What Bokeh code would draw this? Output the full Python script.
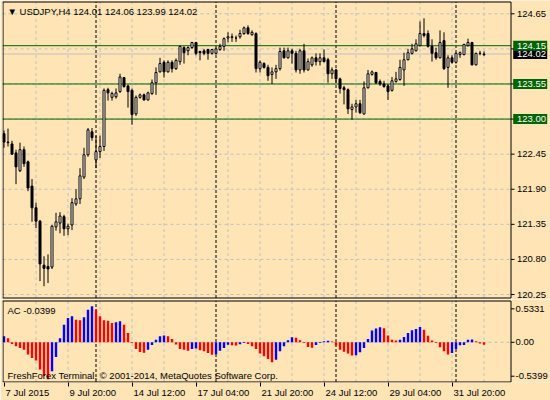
import numpy as np
from bokeh.plotting import figure
from bokeh.layouts import column
from bokeh.models import Range1d, FixedTicker, Label
from bokeh.core.properties import value
from bokeh.embed import file_html
from bokeh.resources import INLINE

# ---------------- data ----------------
opens = [122.77, 122.63, 122.61, 122.47, 122.19, 122.52, 122.33, 121.95, 121.61, 121.40,
         120.71, 120.69, 120.68, 121.31, 121.37, 121.47, 121.28, 121.34, 121.67, 121.75,
         122.09, 122.44, 122.80, 122.36, 122.49, 122.57, 123.46, 123.34, 123.35, 123.43,
         123.65, 123.52, 123.45, 123.08, 123.34, 123.38, 123.30, 123.40, 123.57, 123.74,
         123.89, 123.74, 123.89, 123.79, 123.90, 124.12, 124.07, 124.12, 124.20, 124.06,
         124.07, 124.09, 124.03, 124.03, 124.09, 124.14, 124.27, 124.28, 124.27, 124.29,
         124.34, 124.43, 124.32, 124.34, 123.79, 123.87, 123.81, 123.70, 123.74, 123.79,
         124.07, 123.96, 124.07, 124.03, 123.77, 124.07, 123.77, 123.85, 123.96, 123.90,
         123.96, 123.93, 123.71, 123.77, 123.63, 123.49, 123.46, 123.15, 123.19, 123.24,
         123.08, 123.49, 123.70, 123.73, 123.59, 123.55, 123.52, 123.45, 123.59, 123.62,
         123.77, 123.93, 124.03, 124.07, 124.15, 124.34, 124.34, 124.14, 124.04, 123.96,
         124.23, 123.81, 123.96, 123.89, 124.01, 124.01, 124.15, 124.20, 123.85, 124.03,
         124.01]
highs = [122.82, 122.85, 122.66, 122.52, 122.63, 122.57, 122.35, 122.06, 121.69, 121.42,
         120.85, 120.88, 121.34, 121.53, 121.54, 121.50, 121.36, 121.76, 121.90, 122.23,
         122.55, 122.86, 122.86, 122.74, 122.74, 123.48, 123.49, 123.43, 123.48, 123.71,
         123.66, 123.54, 123.48, 123.37, 123.40, 123.40, 123.43, 123.62, 123.81, 123.96,
         123.92, 123.92, 123.92, 123.95, 124.15, 124.14, 124.14, 124.21, 124.21, 124.07,
         124.10, 124.10, 124.10, 124.12, 124.18, 124.28, 124.36, 124.34, 124.31, 124.40,
         124.45, 124.47, 124.39, 124.36, 123.92, 123.89, 123.85, 123.81, 123.85, 124.12,
         124.12, 124.12, 124.10, 124.07, 124.10, 124.18, 123.95, 123.98, 124.03, 124.03,
         124.09, 123.96, 123.81, 123.79, 123.65, 123.52, 123.48, 123.24, 123.30, 123.30,
         123.59, 123.77, 123.76, 123.74, 123.62, 123.60, 123.55, 123.66, 123.74, 123.93,
         124.04, 124.10, 124.18, 124.25, 124.53, 124.58, 124.39, 124.25, 124.12, 124.39,
         124.36, 124.00, 124.00, 124.04, 124.06, 124.18, 124.26, 124.21, 124.04, 124.07,
         124.06]
lows = [122.55, 122.57, 122.44, 121.98, 122.17, 122.25, 121.87, 121.39, 121.29, 120.46,
        120.38, 120.43, 120.65, 121.25, 121.21, 121.17, 121.18, 121.26, 121.64, 121.67,
        122.06, 122.41, 122.66, 122.23, 122.39, 122.50, 123.29, 123.29, 123.32, 123.41,
        123.49, 123.18, 122.91, 123.05, 123.32, 123.29, 123.29, 123.38, 123.38, 123.73,
        123.65, 123.73, 123.73, 123.77, 123.85, 123.87, 124.00, 124.10, 124.00, 123.92,
        124.00, 123.93, 124.01, 124.01, 124.07, 124.07, 124.20, 124.21, 124.21, 124.26,
        124.32, 124.32, 124.31, 123.73, 123.73, 123.79, 123.60, 123.55, 123.63, 123.76,
        123.95, 123.95, 123.87, 123.73, 123.71, 123.73, 123.76, 123.82, 123.84, 123.84,
        123.89, 123.57, 123.63, 123.57, 123.40, 123.23, 123.08, 122.99, 123.10, 123.08,
        123.07, 123.48, 123.68, 123.55, 123.52, 123.49, 123.30, 123.43, 123.57, 123.60,
        123.52, 123.92, 124.01, 124.06, 124.14, 124.28, 124.12, 123.90, 123.93, 123.95,
        123.77, 123.49, 123.87, 123.87, 123.96, 124.00, 124.14, 123.84, 123.84, 124.00,
        123.99]
closes = [122.64, 122.64, 122.45, 122.25, 122.52, 122.30, 121.92, 121.61, 121.40, 120.73,
          120.66, 120.65, 121.32, 121.39, 121.48, 121.28, 121.32, 121.69, 121.75, 122.11,
          122.44, 122.83, 122.71, 122.49, 122.57, 123.45, 123.41, 123.40, 123.41, 123.66,
          123.51, 123.43, 123.07, 123.34, 123.38, 123.30, 123.41, 123.57, 123.73, 123.87,
          123.74, 123.89, 123.79, 123.92, 124.14, 124.04, 124.12, 124.20, 124.03, 124.04,
          124.03, 124.03, 124.09, 124.10, 124.14, 124.26, 124.29, 124.29, 124.27, 124.34,
          124.43, 124.34, 124.36, 123.79, 123.89, 123.81, 123.68, 123.74, 123.79, 124.06,
          123.96, 124.07, 124.03, 123.77, 124.07, 123.77, 123.90, 123.96, 123.90, 123.96,
          123.90, 123.71, 123.77, 123.63, 123.48, 123.46, 123.16, 123.19, 123.24, 123.10,
          123.49, 123.71, 123.74, 123.57, 123.55, 123.51, 123.43, 123.60, 123.63, 123.81,
          123.93, 124.04, 124.10, 124.18, 124.34, 124.31, 124.14, 124.03, 123.96, 124.20,
          123.79, 123.96, 123.89, 124.03, 124.04, 124.17, 124.20, 123.85, 124.03, 124.03,
          124.02]
ac_values = [0.096, 0.064, -0.027, -0.064, -0.090, -0.117, -0.196, -0.250, -0.290, -0.435,
             -0.536, -0.590, -0.460, -0.234, 0.064, 0.280, 0.387, 0.414, 0.360, 0.350,
             0.400, 0.520, 0.573, 0.520, 0.414, 0.350, 0.345, 0.308, 0.318, 0.334,
             0.280, 0.149, -0.010, -0.106, -0.155, -0.165, -0.117, -0.042, 0.042, 0.096,
             0.110, 0.096, 0.053, -0.037, -0.106, -0.117, -0.133, -0.106, -0.100, -0.127,
             -0.143, -0.170, -0.200, -0.190, -0.133, -0.090, -0.040, -0.045, -0.050, -0.030,
             -0.012, -0.027, -0.064, -0.106, -0.180, -0.223, -0.265, -0.318, -0.276, -0.143,
             -0.064, 0.032, 0.080, 0.072, 0.032, -0.010, -0.075, -0.085, -0.042, -0.010,
             0.018, 0.024, 0.011, -0.053, -0.117, -0.149, -0.180, -0.210, -0.205, -0.160,
             -0.090, 0.053, 0.186, 0.218, 0.240, 0.223, 0.110, 0.042, 0.027, 0.042,
             0.085, 0.149, 0.190, 0.212, 0.244, 0.200, 0.106, 0.027, -0.010, -0.080,
             -0.143, -0.196, -0.170, -0.106, -0.048, -0.042, 0.042, 0.045, 0.016, -0.021,
             -0.0399]
bars = list(range(len(closes)))
price_levels = [124.65, 124.10, 123.55, 123.00, 122.45, 121.90, 121.35, 120.80, 120.25]
price_labels = ["124.65", "", "", "", "122.45", "121.90", "121.35", "120.80", "120.25"]
grid_bars = list(range(8, 121, 8))
week_bars = [23, 53, 83, 113]
date_bars = [0, 16, 32, 48, 64, 80, 96, 112]
date_labels = ["7 Jul 2015", "9 Jul 20:00", "14 Jul 12:00", "17 Jul 04:00",
               "21 Jul 20:00", "24 Jul 12:00", "29 Jul 04:00", "31 Jul 20:00"]
level_lines = [124.15, 123.55, 123.00]
level_labels = ["124.15", "123.55", "123.00"]
bid_price = 124.02
bid_label = "124.02"
ac_ticks = [0.5331, 0.0, -0.5399]
ac_tick_labels = ["0.5331", "0.00", "-0.5399"]
title_text = "\u25bc USDJPY,H4  124.01 124.06 123.99 124.02"
ac_title = "AC -0.0399"
copyright_text = "FreshForex Terminal, \u00a9 2001-2014, MetaQuotes Software Corp."

# ---------------- geometry / style ----------------
BG = "#FFE4B5"
GRID = "#C0C0C0"
GREEN = "#006400"
FONT = "Liberation Sans"
FS = "9.5px"
W, H1, H2 = 550, 299, 101
PPU = 4.0                         # pixels per bar
X0 = (2 - 3.5) / PPU              # frame starts at x=2, bar 0 centred at x=3.5
X1 = (510.5 - 3.5) / PPU          # right border of the chart area
X2 = X0 + (W - 2) / PPU           # frame extends over the price-scale column
PPY = 63.8
Y1 = 124.65 + 13.3 / PPY
Y0 = Y1 - H1 / PPY
PPA = 62.8
AF = 83                            # AC frame height
A1 = (341.8 - 299) / PPA
A0 = A1 - AF / PPA

o = np.array(opens); c = np.array(closes)
up = c >= o
body_top = np.maximum(o, c)
body_bot = np.minimum(o, c)
body_fill = ["white" if u else "black" for u in up]


def text_label(fig, x, y, text):
    fig.add_layout(Label(x=x, y=y, x_units="screen", y_units="screen", text=text,
                         text_font=FONT, text_font_size=FS, text_color="black",
                         text_align="left", text_baseline="middle"))


def texts(fig, xs, ys, labels, color="black"):
    fig.text(x=xs, y=ys, text=labels, text_font=value(FONT), text_font_size=value(FS),
             text_color=color, text_align="left", text_baseline="middle")


def base_fig(height, y_range, bottom, x_loc):
    f = figure(width=W, height=height, output_backend="svg", toolbar_location=None,
               x_range=Range1d(X0, X2), y_range=y_range,
               x_axis_location=x_loc, y_axis_location=None,
               min_border_left=2, min_border_right=0,
               min_border_top=0, min_border_bottom=bottom,
               background_fill_color=BG, border_fill_color=BG,
               outline_line_color=None)
    f.xgrid.grid_line_color = None
    f.ygrid.grid_line_color = None
    return f


def chart_box(f, top, bottom, py):
    hx = 0.5 / PPU
    # vertical grid and weekly separators between the borders
    nb = len(grid_bars)
    f.segment(x0=grid_bars, y0=[bottom] * nb, x1=grid_bars, y1=[top] * nb,
              line_color=GRID, line_dash="3 3", line_width=1, level="underlay")
    nw = len(week_bars)
    f.segment(x0=week_bars, y0=[bottom] * nw, x1=week_bars, y1=[top] * nw,
              line_color="black", line_dash="3 2", line_width=1, level="underlay")
    return hx


# ---------------- price pane ----------------
p = base_fig(H1, Range1d(Y0, Y1), 0, None)
top_p = Y1 - 1.5 / PPY
bot_p = Y1 - 297.5 / PPY
chart_box(p, top_p, bot_p, PPY)

n_lv = len(price_levels)
p.segment(x0=[X0] * n_lv, y0=price_levels, x1=[X1] * n_lv, y1=price_levels,
          line_color=GRID, line_dash="3 3", line_width=1, level="underlay")
p.segment(x0=[X0], y0=[bid_price], x1=[X1], y1=[bid_price],
          line_color=GRID, line_width=1, level="underlay")
p.segment(x0=[X0] * 3, y0=level_lines, x1=[X1] * 3, y1=level_lines,
          line_color=GREEN, line_width=1, level="underlay")

# candles
p.segment(x0=bars, y0=lows, x1=bars, y1=highs, line_color="black", line_width=1)
p.vbar(x=bars, width=0.5, top=body_top, bottom=body_bot,
       fill_color=body_fill, line_color="black", line_width=1)

# chart border
hx = 0.5 / PPU
p.segment(x0=[X0 + hx, X1, X0, X0], y0=[bot_p, bot_p, top_p, bot_p],
          x1=[X0 + hx, X1, X1, X1], y1=[top_p, top_p, top_p, bot_p],
          line_color="black", line_width=1)

# price scale
p.segment(x0=[X1] * n_lv, y0=price_levels, x1=[X1 + 3.5 / PPU] * n_lv, y1=price_levels,
          line_color="black", line_width=1)
lab_x = X1 + 6.0 / PPU
box_cx = X1 + 19.2 / PPU
texts(p, [lab_x] * n_lv, price_levels, price_labels)
p.rect(x=[box_cx], y=[bid_price], width=34, height=10, width_units="screen",
       height_units="screen", fill_color="black", line_color=None)
texts(p, [lab_x], [bid_price], [bid_label], "white")
p.rect(x=[box_cx] * 3, y=level_lines, width=34, height=10, width_units="screen",
       height_units="screen", fill_color=GREEN, line_color=None)
texts(p, [lab_x] * 3, level_lines, level_labels, "white")

text_label(p, 5.0, H1 - 11.0, title_text)

# ---------------- AC pane ----------------
acv = np.array(ac_values)
rising = np.diff(acv, prepend=acv[0] - 1) > 0
ac_colors = ["#0000FF" if r else "#FF0000" for r in rising]

q = base_fig(H2, Range1d(A0, A1), H2 - AF, "below")
q.x_range = p.x_range
top_q = A1 - 1.5 / PPA
bot_q = A0 + 0.5 / PPA
chart_box(q, top_q, bot_q, PPA)
q.segment(x0=[X0], y0=[0.0], x1=[X1], y1=[0.0], line_color=GRID, line_dash="3 3",
          line_width=1, level="underlay")

q.vbar(x=bars, width=0.6, top=ac_values, bottom=0, fill_color=ac_colors,
       line_color=None)

q.segment(x0=[X0 + hx, X1, X0, X0], y0=[bot_q, bot_q, top_q, bot_q],
          x1=[X0 + hx, X1, X1, X1], y1=[top_q, top_q, top_q, bot_q],
          line_color="black", line_width=1)

na = len(ac_ticks)
q.segment(x0=[X1] * na, y0=ac_ticks, x1=[X1 + 3.5 / PPU] * na, y1=ac_ticks,
          line_color="black", line_width=1)
texts(q, [X1 + 4.5 / PPU] * na, ac_ticks, ac_tick_labels)

text_label(q, 5.0, AF - 10.5, ac_title)
text_label(q, 5.0, 7.3, copyright_text)

# time scale: tick marks at the bars, each label starting just right of its tick
label_w = [43.8 if t.endswith("2015") else (46.5 if t.startswith("9 ") else 51.8)
           for t in date_labels]
label_pos = [b + (1.5 + w / 2) / PPU for b, w in zip(date_bars, label_w)]
xa = q.xaxis[0]
xa.ticker = FixedTicker(ticks=label_pos, minor_ticks=date_bars)
xa.major_label_overrides = dict(zip(label_pos, date_labels))
xa.axis_line_color = None
xa.major_tick_line_color = None
xa.major_tick_out = 4
xa.major_tick_in = 0
xa.minor_tick_line_color = "black"
xa.minor_tick_out = 4
xa.minor_tick_in = 0
xa.major_label_standoff = 0
xa.major_label_text_font = FONT
xa.major_label_text_font_size = FS
xa.major_label_text_color = "black"

layout = column(p, q, spacing=0)
open("out.html", "w").write(file_html(layout, INLINE))
